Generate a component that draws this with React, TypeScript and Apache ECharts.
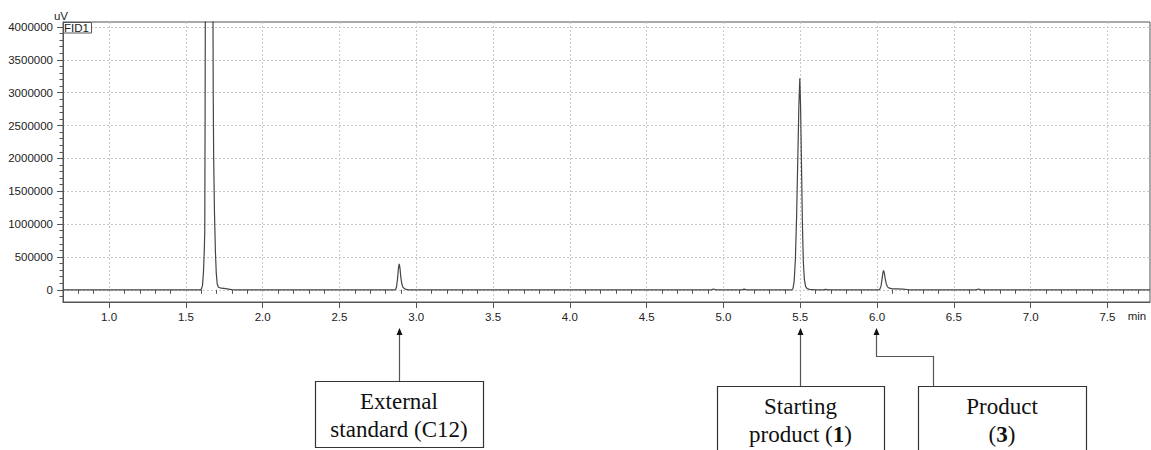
import React, { useEffect, useRef } from "react";
import * as echarts from "echarts";

// Chromatogram trace: retention time (min) and FID signal (uV)
const retentionTimes = [
  0.7, 1.595,
  1.6, 1.608, 1.614, 1.62, 1.623, 1.625, 1.627, 1.65, 1.676, 1.678, 1.681, 1.686, 1.692, 1.698, 1.704, 1.712, 1.73, 1.76, 1.785, 1.8, 1.82,
  2.86, 2.866, 2.872, 2.878, 2.884, 2.889, 2.894, 2.899, 2.905, 2.912, 2.922, 2.935, 2.95,
  4.92, 4.935, 4.95,
  5.12, 5.135, 5.15,
  5.445, 5.452, 5.46, 5.468, 5.476, 5.484, 5.491, 5.497, 5.502, 5.508, 5.514, 5.52, 5.527, 5.535, 5.545, 5.56, 5.58, 5.6,
  5.65, 5.665, 5.68,
  6.01, 6.018, 6.026, 6.033, 6.038, 6.042, 6.047, 6.053, 6.06, 6.068, 6.08, 6.1, 6.13, 6.17, 6.195, 6.21,
  6.645, 6.66, 6.675,
  7.777,
];
const signalUV = [
  0, 0,
  8000, 60000, 250000, 600000, 900000, 2500000, 4600000, 9000000, 4600000, 3000000, 2000000, 1200000, 600000, 250000, 90000, 40000, 25000, 18000, 8000, 2000, 0,
  0, 8000, 50000, 170000, 330000, 395000, 330000, 200000, 100000, 45000, 18000, 6000, 0,
  0, 12000, 0,
  0, 10000, 0,
  0, 15000, 120000, 450000, 1100000, 2000000, 2800000, 3220000, 2800000, 1900000, 1000000, 420000, 150000, 50000, 18000, 8000, 4000, 0,
  0, 8000, 0,
  0, 10000, 60000, 170000, 260000, 295000, 260000, 170000, 90000, 45000, 25000, 16000, 14000, 11000, 5000, 0,
  0, 12000, 0,
  0,
];

// Axis ticks
const xMajorTicks = [1.0, 1.5, 2.0, 2.5, 3.0, 3.5, 4.0, 4.5, 5.0, 5.5, 6.0, 6.5, 7.0, 7.5];
const yMajorTicks = [0, 500000, 1000000, 1500000, 2000000, 2500000, 3000000, 3500000, 4000000];
const X_MIN = 0.7;
const X_MAX = 7.777;
const Y_MIN = -185000;
const Y_MAX = 4075000;

// Peak annotations: label lines and the retention time each arrow points at
const annotations = [
  { lines: ["External", "standard (C12)"], target: 2.89, box: [315, 381, 168, 66], elbow: null as null | number },
  { lines: ["Starting", "product ({b|1})"], target: 5.497, box: [717, 386, 167, 120], elbow: null as null | number },
  { lines: ["Product", "({b|3})"], target: 5.99, box: [918, 386, 168, 120], elbow: 933 },
];

function stepValues(from: number, to: number, step: number, skip: number[]): number[] {
  const out: number[] = [];
  const n = Math.round((to - from) / step);
  for (let i = 0; i <= n; i++) {
    const v = Math.round((from + i * step) * 1000) / 1000;
    if (!skip.some((s) => Math.abs(s - v) < 1e-6)) out.push(v);
  }
  return out;
}

const xMinorTicks = stepValues(0.8, 7.7, 0.1, xMajorTicks);
const yMinorTicks = stepValues(-100000, 4000000, 100000, yMajorTicks);

const AXIS_COLOR = "#555555";
const LABEL_FONT = "Liberation Sans";
const SERIF = "Liberation Serif";

export default function App() {
  const ref = useRef<HTMLDivElement>(null);

  useEffect(() => {
    document.body.style.margin = "0";
    if (!ref.current) return;
    const chart = echarts.init(ref.current, null, { renderer: "svg" });

    const data = retentionTimes.map((t, i) => [t, signalUV[i]]);
    const labelStyle = { fontFamily: LABEL_FONT, fontSize: 11.5, color: "#222" };

    chart.setOption({
      animation: false,
      backgroundColor: "#ffffff",
      grid: {
        left: 63,
        right: 1,
        top: 22,
        bottom: 148,
        show: true,
        borderColor: AXIS_COLOR,
        borderWidth: 1,
      },
      xAxis: [
        {
          type: "value",
          min: X_MIN,
          max: X_MAX,
          position: "bottom",
          axisLine: { show: true, onZero: false, lineStyle: { color: AXIS_COLOR, width: 1 } },
          axisTick: { show: true, length: 6, customValues: xMajorTicks, lineStyle: { color: AXIS_COLOR } },
          axisLabel: {
            ...labelStyle,
            margin: 9,
            customValues: xMajorTicks,
            formatter: (v: number) => v.toFixed(1),
          },
          splitLine: { show: true, lineStyle: { color: "#c8c8c8", type: [2, 2], width: 1 } },
        },
        {
          type: "value",
          min: X_MIN,
          max: X_MAX,
          position: "bottom",
          axisLine: { show: false },
          axisTick: { show: true, length: 4, customValues: xMinorTicks, lineStyle: { color: AXIS_COLOR } },
          axisLabel: { show: false },
          splitLine: { show: false },
        },
      ],
      yAxis: [
        {
          type: "value",
          min: Y_MIN,
          max: Y_MAX,
          position: "left",
          axisLine: { show: true, onZero: false, lineStyle: { color: AXIS_COLOR, width: 1 } },
          axisTick: { show: true, length: 6, customValues: yMajorTicks, lineStyle: { color: AXIS_COLOR } },
          axisLabel: {
            ...labelStyle,
            margin: 10,
            customValues: yMajorTicks,
            formatter: (v: number) => String(Math.round(v)),
          },
          splitLine: { show: true, lineStyle: { color: "#c8c8c8", type: [2, 2], width: 1 } },
        },
        {
          type: "value",
          min: Y_MIN,
          max: Y_MAX,
          position: "left",
          axisLine: { show: false },
          axisTick: { show: true, length: 3.5, customValues: yMinorTicks, lineStyle: { color: AXIS_COLOR } },
          axisLabel: { show: false },
          splitLine: { show: false },
        },
      ],
      series: [
        {
          type: "line",
          xAxisIndex: 0,
          yAxisIndex: 0,
          data,
          showSymbol: false,
          clip: true,
          lineStyle: { color: "#454545", width: 1.2 },
          silent: true,
        },
      ],
    });

    // Annotation boxes and arrows placed relative to the x axis scale
    const graphics: any[] = [
      {
        type: "text",
        style: { text: "uV", x: 61, y: 16, align: "center", verticalAlign: "middle", font: `11.5px "${LABEL_FONT}"`, fill: "#222" },
      },
      {
        type: "rect",
        shape: { x: 63.5, y: 22.5, width: 28, height: 10.5 },
        style: { fill: "#fff", stroke: AXIS_COLOR, lineWidth: 1 },
      },
      {
        type: "text",
        style: { text: "FID1", x: 64, y: 28, align: "left", verticalAlign: "middle", font: `11.5px "${LABEL_FONT}"`, fill: "#222" },
      },
      {
        type: "text",
        style: { text: "min", x: 1137, y: 316, align: "center", verticalAlign: "middle", font: `11.5px "${LABEL_FONT}"`, fill: "#222" },
      },
    ];

    const tipY = 328;
    const headH = 7;
    annotations.forEach((a) => {
      const ax = Math.round(chart.convertToPixel({ xAxisIndex: 0 }, a.target) as number) + 0.5;
      const [bx, by, bw, bh] = a.box;
      const cx = bx + bw / 2;
      graphics.push({
        type: "rect",
        shape: { x: bx + 0.5, y: by + 0.5, width: bw, height: bh },
        style: { fill: "#fff", stroke: "#333", lineWidth: 1.2 },
      });
      a.lines.forEach((line, i) => {
        graphics.push({
          type: "text",
          style: {
            text: line,
            x: cx,
            y: by + 20.5 + i * 27.5,
            align: "center",
            verticalAlign: "middle",
            font: `23px "${SERIF}"`,
            fill: "#111",
            rich: {
              b: { fontFamily: SERIF, fontSize: 23, fontWeight: "bold", fill: "#111" },
            },
          },
        });
      });
      const points =
        a.elbow != null
          ? [
              [a.elbow + 0.5, by],
              [a.elbow + 0.5, 356.5],
              [ax, 356.5],
              [ax, tipY + headH],
            ]
          : [
              [ax, by],
              [ax, tipY + headH],
            ];
      graphics.push({
        type: "polyline",
        shape: { points },
        style: { stroke: "#555", lineWidth: 1.2, fill: null },
      });
      graphics.push({
        type: "polygon",
        shape: {
          points: [
            [ax, tipY],
            [ax - 3, tipY + headH],
            [ax + 3, tipY + headH],
          ],
        },
        style: { fill: "#111", stroke: null },
      });
    });

    chart.setOption({ graphic: graphics });

    return () => chart.dispose();
  }, []);

  return (
    <div
      ref={ref}
      style={{ position: "absolute", left: 0, top: 0, width: 1151, height: 450 }}
    />
  );
}
